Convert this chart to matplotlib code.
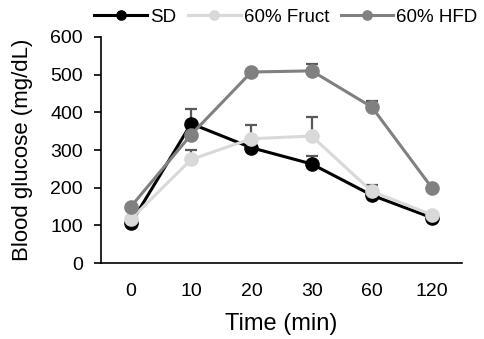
import numpy as np
import matplotlib.pyplot as plt

plt.rcParams['font.family'] = ['Liberation Sans', 'DejaVu Sans']

times = ['0', '10', '20', '30', '60', '120']
sd = [106, 370, 306, 263, 180, 120]
sd_err = [0, 40, 0, 22, 0, 0]
fruct = [117, 275, 330, 337, 190, 128]
fruct_err = [0, 26, 37, 50, 16, 0]
hfd = [150, 341, 507, 510, 414, 199]
hfd_err = [0, 0, 0, 19, 17, 0]

series = [
    ('SD', sd, sd_err, '#000000'),
    ('60% Fruct', fruct, fruct_err, '#d9d9d9'),
    ('60% HFD', hfd, hfd_err, '#808080'),
]

fig = plt.figure(figsize=(4.85, 3.39), dpi=100)
ax = fig.add_axes([0.208, 0.224, 0.745, 0.667])

x = np.arange(len(times))
for z, (name, vals, errs, col) in enumerate(series):
    ax.errorbar(x, vals, yerr=[np.zeros(len(errs)), errs], fmt='none',
                ecolor='#595959', elinewidth=1.6, capsize=4, capthick=1.6,
                zorder=2 + 2 * z)
    ax.plot(x, vals, color=col, lw=2.2, marker='o', markersize=9.5,
            label=name, zorder=3 + 2 * z)

ax.set_xlim(-0.5, len(times) - 0.5)
ax.set_ylim(0, 600)
ax.set_yticks(range(0, 601, 100))
ax.set_xticks(x)
ax.set_xticklabels(times)
ax.tick_params(axis='x', length=0, labelsize=14, pad=14)
ax.tick_params(axis='y', length=5, width=1.2, labelsize=14, pad=8)
for s in ['top', 'right']:
    ax.spines[s].set_visible(False)
ax.spines['left'].set_linewidth(1.2)
ax.spines['bottom'].set_linewidth(1.2)

ax.set_xlabel('Time (min)', fontsize=17, labelpad=10)
ax.set_ylabel('Blood glucose (mg/dL)', fontsize=16, labelpad=12)

ax.legend(loc='center', bbox_to_anchor=(286 / 485, 1 - 17 / 339),
          bbox_transform=fig.transFigure, ncol=3, frameon=False,
          fontsize=13.5, handlelength=2.8, handletextpad=0.16,
          columnspacing=0.64, borderaxespad=0, markerscale=0.7)

fig.savefig('out.png', dpi=100)
